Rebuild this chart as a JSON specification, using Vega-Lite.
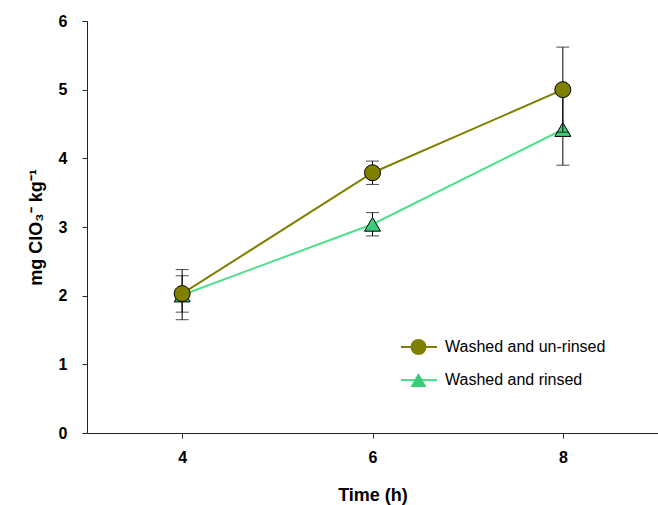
{
  "$schema": "https://vega.github.io/schema/vega-lite/v6.json",
  "width": 571,
  "height": 412,
  "autosize": {"type": "none"},
  "padding": {"left": 87, "top": 21, "right": 0, "bottom": 72},
  "background": "white",
  "config": {
    "view": {"stroke": null},
    "font": "Liberation Sans",
    "axis": {
      "grid": false,
      "domainColor": "#222",
      "tickColor": "#222",
      "labelColor": "black",
      "titleColor": "black",
      "labelFont": "Liberation Sans",
      "titleFont": "Liberation Sans",
      "labelFontWeight": "bold",
      "titleFontWeight": "bold",
      "labelFontSize": 16,
      "titleFontSize": 18,
      "tickSize": 5,
      "domainWidth": 1,
      "tickWidth": 1
    },
    "legend": {
      "labelFont": "Liberation Sans",
      "labelFontSize": 16,
      "labelColor": "black",
      "labelLimit": 0,
      "padding": 0
    }
  },
  "data": {
    "values": [
      {"t": 4, "series": "Washed and un-rinsed", "mean": 2.03, "lo": 1.76, "hi": 2.29},
      {"t": 6, "series": "Washed and un-rinsed", "mean": 3.79, "lo": 3.62, "hi": 3.96},
      {"t": 8, "series": "Washed and un-rinsed", "mean": 5.0, "lo": 4.38, "hi": 5.62},
      {"t": 4, "series": "Washed and rinsed", "mean": 2.01, "lo": 1.65, "hi": 2.38},
      {"t": 6, "series": "Washed and rinsed", "mean": 3.04, "lo": 2.87, "hi": 3.21},
      {"t": 8, "series": "Washed and rinsed", "mean": 4.42, "lo": 3.9, "hi": 4.94}
    ]
  },
  "encoding": {
    "x": {
      "field": "t",
      "type": "quantitative",
      "scale": {"domain": [3, 9], "nice": false, "zero": false},
      "axis": {"values": [4, 6, 8], "title": "Time (h)", "labelPadding": 11, "titlePadding": 21}
    },
    "y": {
      "field": "mean",
      "type": "quantitative",
      "title": "mg ClO₃⁻ kg⁻¹",
      "scale": {"domain": [0, 6], "nice": false},
      "axis": {"values": [0, 1, 2, 3, 4, 5, 6], "labelPadding": 15, "titlePadding": 13}
    }
  },
  "layer": [
    {
      "transform": [{"filter": "datum.series === 'Washed and rinsed'"}],
      "layer": [
        {
          "mark": {"type": "line", "strokeWidth": 2},
          "encoding": {
            "stroke": {
              "field": "series", "type": "nominal",
              "sort": ["Washed and un-rinsed", "Washed and rinsed"],
              "scale": {"range": ["#808000", "#4EE08A"]},
              "legend": {"title": null, "orient": "none", "legendX": 313, "legendY": 318, "symbolType": "stroke", "symbolSize": 1296, "symbolStrokeWidth": 2, "clipHeight": 16, "rowPadding": 17, "labelExpr": "''"}
            }
          }
        },
        {
          "mark": {"type": "rule", "color": "black", "strokeWidth": 1},
          "encoding": {"y": {"field": "lo", "type": "quantitative", "title": "mg ClO₃⁻ kg⁻¹"}, "y2": {"field": "hi"}}
        },
        {
          "mark": {"type": "tick", "orient": "horizontal", "color": "black", "size": 13, "thickness": 1},
          "encoding": {"y": {"field": "lo", "type": "quantitative", "title": "mg ClO₃⁻ kg⁻¹"}}
        },
        {
          "mark": {"type": "tick", "orient": "horizontal", "color": "black", "size": 13, "thickness": 1},
          "encoding": {"y": {"field": "hi", "type": "quantitative", "title": "mg ClO₃⁻ kg⁻¹"}}
        },
        {
          "mark": {"type": "point", "filled": true, "stroke": "black", "strokeWidth": 1, "size": 256, "opacity": 1},
          "encoding": {
            "shape": {"field": "series", "type": "nominal", "scale": {"domain": ["Washed and un-rinsed", "Washed and rinsed"], "range": ["circle", "triangle-up"]},
              "legend": {"title": null, "orient": "none", "legendX": 323, "legendY": 318, "symbolSize": 256, "symbolStrokeColor": "black", "symbolStrokeWidth": 1, "labelOffset": 18, "rowPadding": 17, "clipHeight": 16}},
            "fill": {"field": "series", "type": "nominal", "scale": {"domain": ["Washed and un-rinsed", "Washed and rinsed"], "range": ["#808000", "#3CCB78"]},
              "legend": {"title": null, "orient": "none", "legendX": 323, "legendY": 318, "symbolSize": 256, "symbolStrokeColor": "black", "symbolStrokeWidth": 1, "labelOffset": 18, "rowPadding": 17, "clipHeight": 16}}
          }
        }
      ]
    },
    {
      "transform": [{"filter": "datum.series === 'Washed and un-rinsed'"}],
      "layer": [
        {
          "mark": {"type": "line", "strokeWidth": 2},
          "encoding": {
            "stroke": {
              "field": "series", "type": "nominal",
              "sort": ["Washed and un-rinsed", "Washed and rinsed"],
              "scale": {"range": ["#808000", "#4EE08A"]},
              "legend": {"title": null, "orient": "none", "legendX": 313, "legendY": 318, "symbolType": "stroke", "symbolSize": 1296, "symbolStrokeWidth": 2, "clipHeight": 16, "rowPadding": 17, "labelExpr": "''"}
            }
          }
        },
        {
          "mark": {"type": "rule", "color": "black", "strokeWidth": 1},
          "encoding": {"y": {"field": "lo", "type": "quantitative", "title": "mg ClO₃⁻ kg⁻¹"}, "y2": {"field": "hi"}}
        },
        {
          "mark": {"type": "tick", "orient": "horizontal", "color": "black", "size": 13, "thickness": 1},
          "encoding": {"y": {"field": "lo", "type": "quantitative", "title": "mg ClO₃⁻ kg⁻¹"}}
        },
        {
          "mark": {"type": "tick", "orient": "horizontal", "color": "black", "size": 13, "thickness": 1},
          "encoding": {"y": {"field": "hi", "type": "quantitative", "title": "mg ClO₃⁻ kg⁻¹"}}
        },
        {
          "mark": {"type": "point", "filled": true, "stroke": "black", "strokeWidth": 1, "size": 256, "opacity": 1},
          "encoding": {
            "shape": {"field": "series", "type": "nominal", "scale": {"domain": ["Washed and un-rinsed", "Washed and rinsed"], "range": ["circle", "triangle-up"]},
              "legend": {"title": null, "orient": "none", "legendX": 323, "legendY": 318, "symbolSize": 256, "symbolStrokeColor": "black", "symbolStrokeWidth": 1, "labelOffset": 18, "rowPadding": 17, "clipHeight": 16}},
            "fill": {"field": "series", "type": "nominal", "scale": {"domain": ["Washed and un-rinsed", "Washed and rinsed"], "range": ["#808000", "#3CCB78"]},
              "legend": {"title": null, "orient": "none", "legendX": 323, "legendY": 318, "symbolSize": 256, "symbolStrokeColor": "black", "symbolStrokeWidth": 1, "labelOffset": 18, "rowPadding": 17, "clipHeight": 16}}
          }
        }
      ]
    }
  ]
}
